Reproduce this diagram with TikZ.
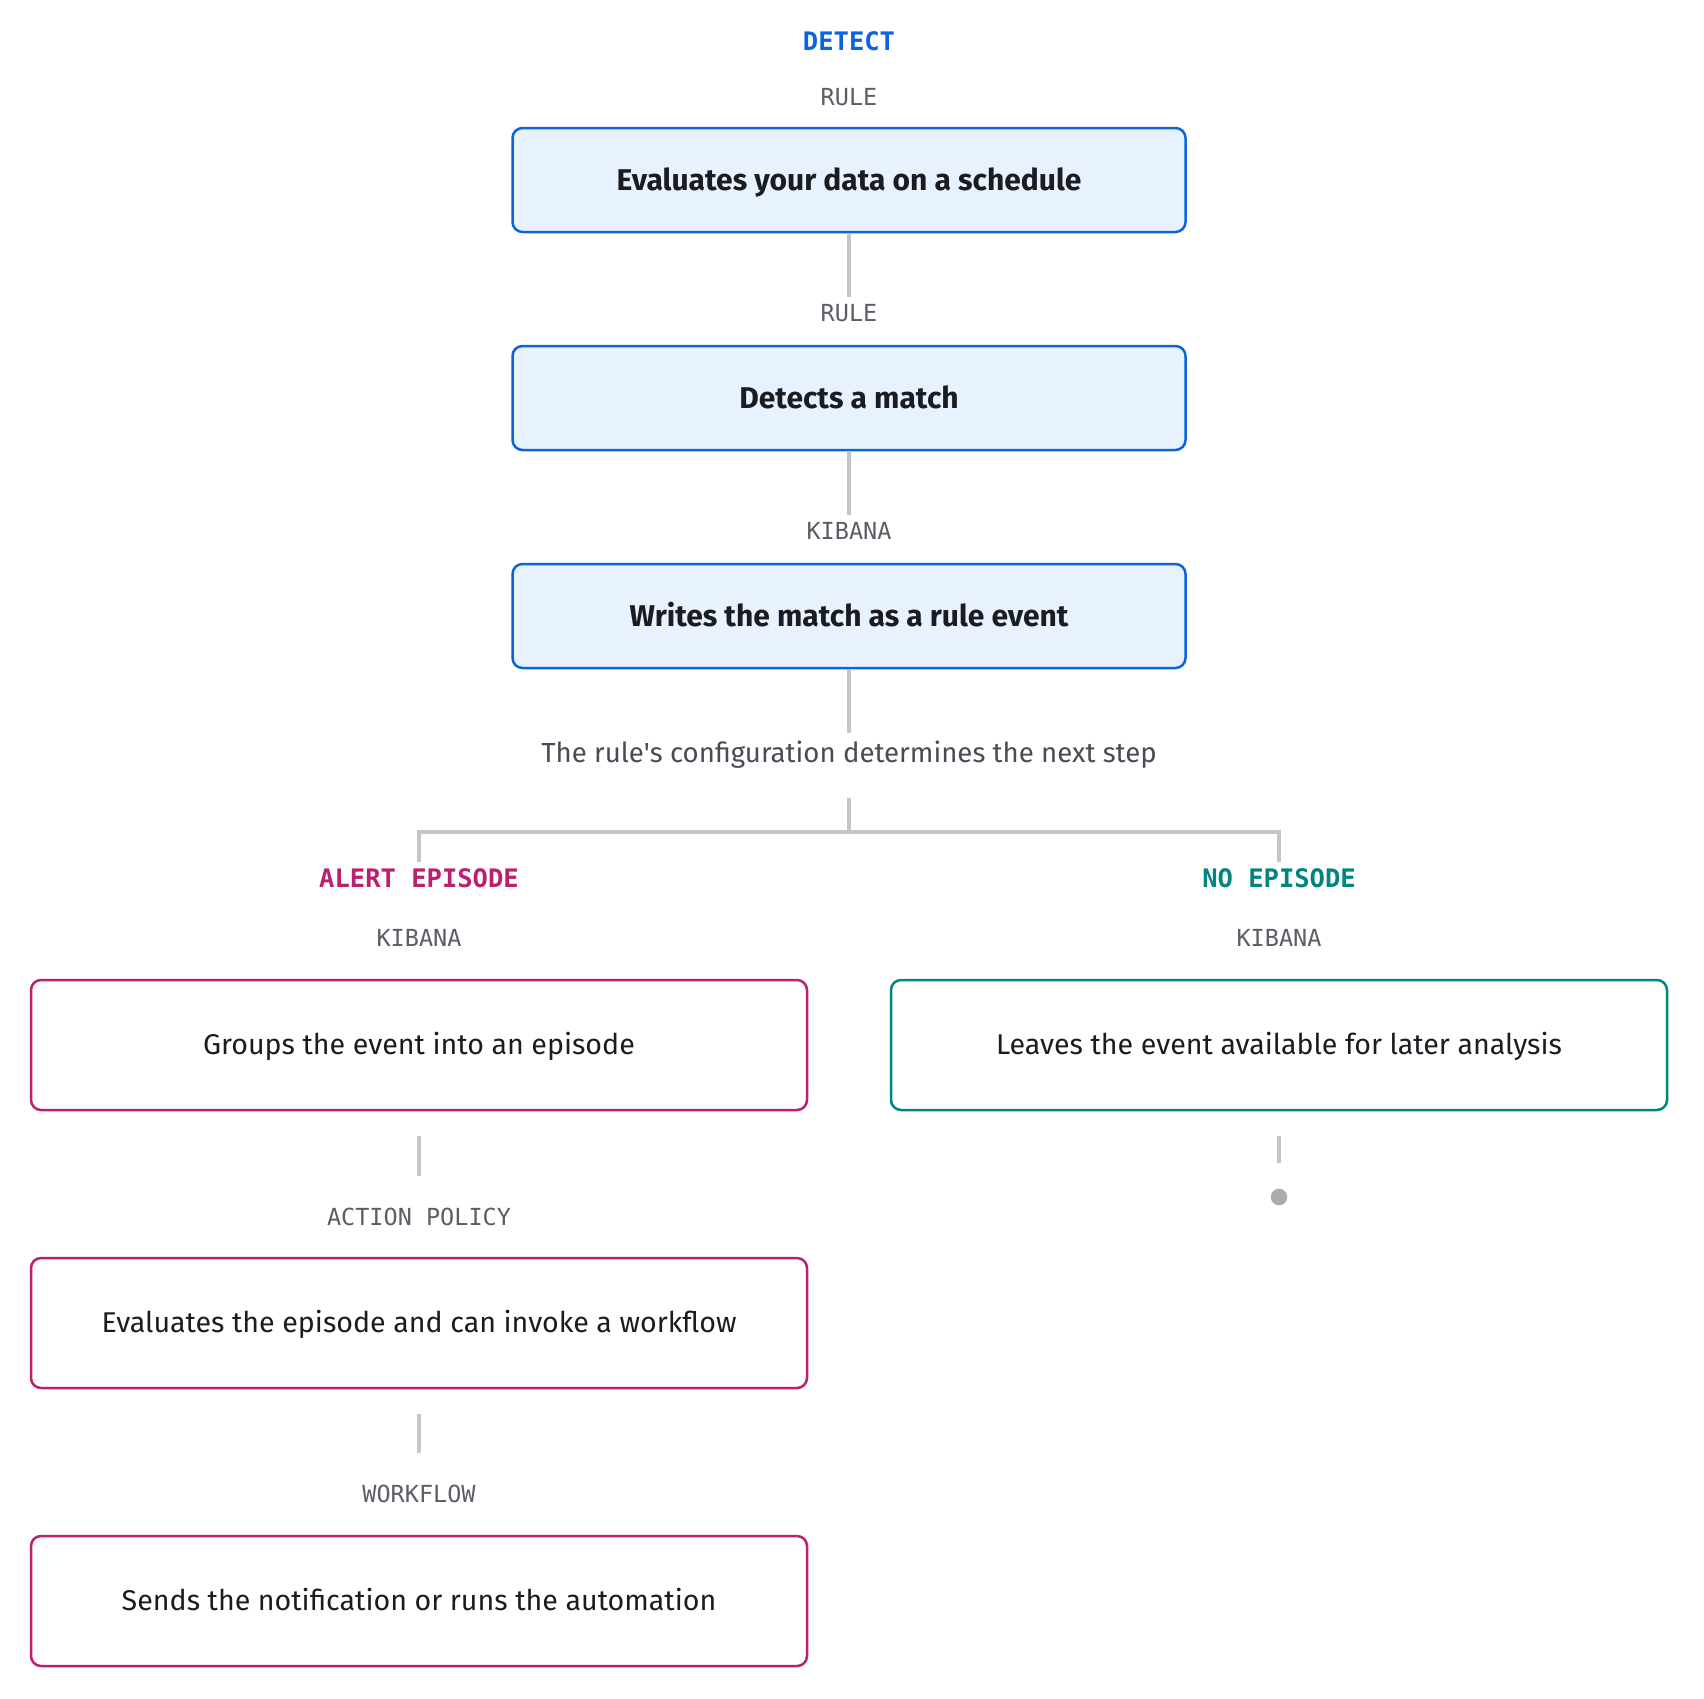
\documentclass[tikz,border=0pt]{standalone}
\usepackage{fontspec}
\setmainfont{Fira Sans}
\setmonofont{DejaVu Sans Mono}
\definecolor{detectblue}{HTML}{0B64DD}
\definecolor{detectfill}{HTML}{E8F1FE}
\definecolor{alertpink}{HTML}{BC1E70}
\definecolor{quietteal}{HTML}{00857F}
\definecolor{linegray}{HTML}{C4C6CC}
\definecolor{dotgray}{HTML}{A9ABB2}
\definecolor{labelgray}{HTML}{5A5E66}
\definecolor{inkdark}{HTML}{1A1C21}
\definecolor{notegray}{HTML}{464B55}
\tikzset{
  stage/.style={font=\fontsize{25.5}{30}\selectfont\ttfamily\bfseries, text height=18pt, text depth=0pt, inner xsep=0pt, inner ysep=7pt},
  actor/.style={font=\fontsize{23.5}{28}\selectfont\ttfamily, text=labelgray, text height=17pt, text depth=0pt, inner ysep=7.5pt},
  note/.style={font=\fontsize{27.6}{32}\selectfont, text=notegray, text height=19pt, text depth=0pt, inner ysep=10.5pt},
  rulebox/.style={draw=detectblue, fill=detectfill, line width=2.5pt, rounded corners=10pt, minimum width=673pt, minimum height=104pt, text height=21pt, text depth=0pt, font=\fontsize{30}{36}\selectfont\bfseries, text=inkdark},
  alertbox/.style={draw=alertpink, line width=2.5pt, rounded corners=10pt, minimum width=776pt, minimum height=130pt, text height=19.5pt, text depth=0pt, font=\fontsize{28.6}{34}\selectfont, text=inkdark},
  quietbox/.style={alertbox, draw=quietteal},
  link/.style={draw=linegray, line width=4pt},
}
\begin{document}
\begin{tikzpicture}[x=1pt,y=-1pt]
\useasboundingbox (0,0) rectangle (1704,1698);

% rule side
\node[stage, text=detectblue] (detect) at (849,41.7) {DETECT};
\node[actor] (rule1) at (849,96.7) {RULE};
\node[rulebox] (evaluate) at (849,180) {Evaluates your data on a schedule};
\node[actor] (rule2) at (849,313) {RULE};
\node[rulebox] (detects) at (849,398) {Detects a match};
\node[actor] (kibana1) at (849,531) {KIBANA};
\node[rulebox] (writes) at (849,616) {Writes the match as a rule event};
\node[note] (config) at (849,753) {The rule\textquotesingle s configuration determines the next step};
\coordinate (fork) at (849,832);

\draw[link] (evaluate.south) -- (rule2.north);
\draw[link] (detects.south) -- (kibana1.north);
\draw[link] (writes.south) -- (config.north);

% the two branches
\node[stage, text=alertpink] (alert) at (419,878) {ALERT EPISODE};
\node[stage, text=quietteal] (noepisode) at (1279,878) {NO EPISODE};
\draw[link, shorten <=25pt] (config.south) -- (fork);
\draw[link] (alert.north) |- (fork) -| (noepisode.north);

\node[actor] (kibana2) at (419,938) {KIBANA};
\node[alertbox] (groups) at (419,1045) {Groups the event into an episode};
\node[actor] (policy) at (419,1217) {ACTION POLICY};
\node[alertbox] (invoke) at (419,1323) {Evaluates the episode and can invoke a workflow};
\node[actor] (workflow) at (419,1494) {WORKFLOW};
\node[alertbox] (sends) at (419,1601) {Sends the notification or runs the automation};

\node[actor] (kibana3) at (1279,938) {KIBANA};
\node[quietbox] (leaves) at (1279,1045) {Leaves the event available for later analysis};
\node[circle, fill=dotgray, inner sep=0pt, minimum size=16.5pt] (stop) at (1279,1197) {};

\draw[link, shorten <=25pt, shorten >=25pt] (groups.south) -- (policy.north);
\draw[link, shorten <=25pt, shorten >=25pt] (invoke.south) -- (workflow.north);
\draw[link, shorten <=25pt, shorten >=26pt] (leaves.south) -- (stop.north);
\end{tikzpicture}
\end{document}
